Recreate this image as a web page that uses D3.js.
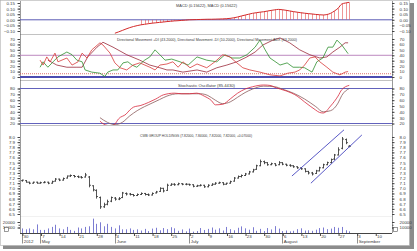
<!DOCTYPE html>
<html>
<head>
<meta charset="utf-8">
<script src="https://cdn.jsdelivr.net/npm/d3@7"></script>
<style>
  body { margin: 0; background: #fff; }
  svg text { font-family: "Liberation Sans", Arial, sans-serif; fill: #3a3a3a; }
</style>
</head>
<body>
<div id="chart"></div>
<script>
(function () {
  'use strict';

  // date axis: Monday ticks (trading-day index) and their labels
  var dayTicks = [0, 5, 10, 15, 20, 25, 30, 35, 40, 45, 50, 55, 60, 65, 70, 75, 80, 85, 90, 95];
  var dayLabels = ['30', '7', '14', '21', '28', '4', '11', '18', '25', '2', '9', '16', '23', '30', '6', '13', '20', '27', '3', '10'];
  var monthTicks = [0, 5, 25, 45, 70, 90];
  var monthLabels = ['2012', 'May', 'June', 'July', 'August', 'September'];

  var macdTicks = [-0.10, -0.05, 0, 0.05, 0.10, 0.15];
  var dmiTicks = [0, 10, 20, 30, 40, 50, 60, 70];
  var stochTicks = [20, 30, 40, 50, 60, 70, 80];
  var priceTicks = [6.5, 6.6, 6.7, 6.8, 6.9, 7.0, 7.1, 7.2, 7.3, 7.4, 7.5, 7.6, 7.7, 7.8, 7.9, 8.0];
  var volTicks = [10000, 20000];

  var macdTitle = 'MACD (0.15622), MACD (0.15622)';
  var dmiTitle = 'Directional Movement +DI (43.2000), Directional Movement -DI (10.2000), Directional Movement ADX (63.2000)';
  var stochTitle = 'Stochastic Oscillator (85.4430)';
  var priceTitle = 'CWB GROUP HOLDINGS (7.82000, 7.84000, 7.82000, 7.82000, +0.07000)';

  // daily bars [open, high, low, close], index 0 = 30 Apr 2012
  var ohlc = [
    [7.15,7.17,7.13,7.16],[7.15,7.16,7.11,7.12],[7.12,7.13,7.08,7.10],[7.10,7.13,7.09,7.12],[7.12,7.13,7.09,7.10],
    [7.10,7.13,7.09,7.11],[7.11,7.14,7.10,7.12],[7.12,7.13,7.08,7.10],[7.10,7.15,7.09,7.13],[7.14,7.20,7.13,7.18],
    [7.18,7.19,7.14,7.16],[7.16,7.21,7.15,7.19],[7.20,7.25,7.19,7.24],[7.24,7.27,7.22,7.25],[7.25,7.26,7.21,7.23],
    [7.23,7.25,7.20,7.22],[7.22,7.24,7.19,7.21],[7.22,7.30,7.21,7.26],[7.22,7.24,7.02,7.06],[7.05,7.06,6.94,6.97],
    [6.96,6.98,6.80,6.84],[6.82,6.84,6.60,6.64],[6.64,6.72,6.62,6.68],[6.69,6.78,6.67,6.74],[6.75,6.84,6.73,6.82],
    [6.81,6.83,6.76,6.79],[6.79,6.83,6.77,6.80],[6.82,6.93,6.81,6.91],[6.90,6.92,6.86,6.89],[6.89,6.91,6.86,6.88],
    [6.88,6.89,6.84,6.86],[6.86,6.90,6.85,6.88],[6.88,6.92,6.87,6.90],[6.90,6.91,6.86,6.88],[6.88,6.90,6.85,6.87],
    [6.87,6.92,6.86,6.90],[6.91,6.95,6.90,6.93],[6.94,7.02,6.93,7.00],[7.00,7.01,6.92,6.95],[6.96,7.09,6.95,7.06],
    [7.06,7.10,7.05,7.08],[7.08,7.10,7.05,7.07],[7.07,7.11,7.06,7.09],[7.09,7.10,7.06,7.08],[7.08,7.10,7.06,7.08],
    [7.08,7.09,7.05,7.07],[7.07,7.08,7.02,7.04],[7.04,7.07,7.03,7.05],[7.05,7.08,7.04,7.06],[7.06,7.07,7.01,7.03],
    [7.03,7.08,7.02,7.06],[7.06,7.10,7.05,7.08],[7.08,7.12,7.07,7.10],[7.10,7.13,7.09,7.11],[7.11,7.12,7.06,7.08],
    [7.08,7.11,7.07,7.10],[7.10,7.15,7.09,7.13],[7.14,7.22,7.13,7.20],[7.20,7.25,7.19,7.23],[7.23,7.27,7.21,7.25],
    [7.25,7.30,7.24,7.28],[7.28,7.34,7.27,7.32],[7.32,7.38,7.31,7.36],[7.37,7.46,7.36,7.44],[7.44,7.56,7.43,7.52],
    [7.52,7.54,7.47,7.50],[7.50,7.51,7.44,7.46],[7.46,7.50,7.45,7.48],[7.48,7.49,7.43,7.45],[7.46,7.53,7.45,7.50],
    [7.50,7.51,7.45,7.47],[7.47,7.48,7.43,7.45],[7.45,7.47,7.42,7.44],[7.44,7.45,7.40,7.42],[7.42,7.43,7.38,7.40],
    [7.40,7.41,7.36,7.38],[7.38,7.39,7.31,7.33],[7.33,7.34,7.27,7.30],[7.30,7.32,7.25,7.28],[7.29,7.36,7.28,7.34],
    [7.34,7.42,7.33,7.40],[7.40,7.48,7.39,7.46],[7.46,7.52,7.45,7.50],[7.50,7.58,7.49,7.56],[7.57,7.67,7.55,7.65],
    [7.65,7.80,7.64,7.75],[7.78,8.00,7.76,7.96],[7.95,7.97,7.86,7.89],[7.82,7.84,7.80,7.82]
  ];

  var volume = [
    8300, 6700, 8300, 6700, 15600, 5600, 5600, 8300, 11100, 15000,
    8300, 6700, 11100, 5600, 3900, 10000, 8300, 11100, 12200, 26100,
    16700, 19500, 12200, 16700, 11100, 8300, 13900, 6700, 6700, 8300,
    5600, 6700, 4500, 7500, 3500, 8000, 9500, 5000, 9000, 7000,
    10500, 8500, 4000, 6500, 3000, 8000, 2500, 3500, 9000, 5500,
    7500, 10000, 6000, 8500, 4500, 11000, 7000, 5000, 9500, 12000,
    8500, 6000, 10500, 4000, 7500, 3500, 9000, 6500, 12500, 8000,
    3500, 4500, 3000, 4000, 7000, 8500, 4500, 5000, 4000, 6000,
    9000, 10000, 7000, 8000, 11000, 9500, 11000, 5000, 3000
  ];

  // MACD per bar from index 25; histogram drawn from index 32
  var macdStart = 25;
  var histStart = 32;
  var macd = [
    -0.120, -0.108, -0.095, -0.082, -0.070, -0.060, -0.052, -0.045, -0.040, -0.035,
    -0.030, -0.027, -0.023, -0.020, -0.016, -0.013, -0.010, -0.008, -0.005, -0.003,
    0.000, 0.001, 0.002, 0.003, 0.004, 0.005, 0.005, 0.006, 0.007, 0.008,
    0.010, 0.013, 0.018, 0.025, 0.034, 0.042, 0.050, 0.058, 0.063, 0.068,
    0.072, 0.078, 0.084, 0.089, 0.093, 0.090, 0.085, 0.079, 0.073, 0.068,
    0.063, 0.059, 0.055, 0.052, 0.048, 0.045, 0.043, 0.047, 0.058, 0.078,
    0.103, 0.141, 0.150, 0.156
  ];

  // directional movement, [bar index, value]
  var plusDI = [
    [4.9,18],[5.7,28],[7,18],[8.4,28],[9.7,37],[12.1,46],[13.5,41],[14.8,31],[16.2,28],[17,13],
    [18.8,9],[21,7],[22.3,1],[23.1,9],[24.5,13],[25.8,13],[27.2,26],[28.5,28],[29.6,22],[30.9,18],
    [33,31],[34.4,37],[35.8,50],[37.1,41],[38.5,31],[40.3,33],[42.5,28],[44.7,22],[47.1,37],[49.7,31],
    [52.4,28],[54.6,41],[56.5,35],[58.6,35],[60.5,41],[62.7,55],[64,68],[65.4,50],[66.7,35],[68.6,26],
    [69.4,22],[71.3,26],[72.9,18],[74.7,18],[76,17],[78,9],[79.3,28],[80.9,35],[82.3,55],[83.6,55],
    [84.7,68],[86,59],[87.7,43]
  ];
  var minusDI = [
    [4.9,31],[5.7,22],[6.7,37],[7.6,28],[8.9,44],[9.7,28],[12.1,35],[13.5,22],[15.1,28],[16.2,44],
    [17.5,35],[18.8,50],[21,63],[21.8,59],[23.7,44],[25,26],[26.4,17],[28.2,13],[29.9,22],[31.7,26],
    [34.4,18],[35.8,13],[37.1,22],[39,24],[40.6,28],[42,18],[43.3,28],[45.2,17],[47.1,24],[49.7,17],
    [51.9,28],[54,41],[55.9,37],[57.8,26],[59.4,17],[61.3,13],[64,9],[66.7,4],[69.4,2],[71.5,7],
    [73.4,9],[74.7,13],[76,22],[77.4,35],[78.8,37],[80.1,28],[82,18],[83.6,9],[85.5,4],[86.9,9],
    [87.7,10]
  ];
  var adx = [
    [7,31],[9.4,22],[12.1,18],[14.8,18],[16.2,18],[17.7,37],[20.2,55],[21.8,64],[24.5,55],[28.2,41],
    [31.7,31],[34.4,22],[37.1,17],[39,13],[40.6,13],[43.3,9],[47.1,13],[49.7,9],[52.4,17],[55.1,22],
    [57.8,28],[60.5,37],[62.7,46],[64.8,59],[67.5,68],[69.4,72],[72,63],[74.7,50],[77.4,41],[80.1,35],
    [82,37],[83.6,46],[85.5,55],[86.9,63],[87.7,63]
  ];
  var dmiUpper = 40;
  var dmiLower = 6;

  // stochastic %K and %D, [bar index, value]
  var stochK = [
    [21,24],[22,19],[24,16],[25,19],[26,28],[28,36],[29,43],[30,48],[32,51],[34,56],
    [36,62],[38,69],[41,72],[43,71],[45,71],[47,72],[49,67],[51,59],[52,52],[54,53],
    [56,62],[58,72],[60,79],[62,83],[65,86],[67,85],[68,82],[71,76],[74,67],[76,57],
    [79,43],[80,39],[81,38],[83,50],[85,67],[86,78],[88,85.4]
  ];
  var stochD = [
    [21,30],[23,22],[25,18],[27,22],[29,33],[31,42],[33,49],[35,55],[37,61],[39,67],
    [42,71],[45,71],[48,71],[50,68],[52,60],[54,54],[56,57],[58,65],[60,73],[62,79],
    [65,84],[68,83],[70,79],[73,72],[76,62],[79,49],[81,40],[83,42],[85,55],[86,68],
    [88,80]
  ];
  var stochLevels = [80, 20];

  // trend channel, [bar index, price] end points
  var channels = [
    [[72.6, 7.24], [86.6, 8.14]],
    [[77.7, 7.10], [91.4, 8.04]]
  ];

  var left = 20, right = 392;
  var svg = d3.select('#chart').append('svg')
    .attr('width', 417)
    .attr('height', 251);

  // frame with drop shadow
  svg.append('rect')
    .attr('x', 3).attr('y', 3).attr('width', 411).attr('height', 246)
    .attr('fill', '#8c8c8c');
  svg.append('rect')
    .attr('x', 0.5).attr('y', 0.5).attr('width', 409).attr('height', 245)
    .attr('fill', '#fff').attr('stroke', '#b0b0b0').attr('stroke-width', 0.6);

  var x = d3.scaleLinear().domain([-0.5, 99.5]).range([left, right]);
  function px(i) { return Math.round(x(i)) + 0.5; }

  var yMacd = d3.scaleLinear().domain([-0.10, 0.15]).range([31, 3]);
  var yDmi = d3.scaleLinear().domain([0, 70]).range([77, 39]);
  var yStoch = d3.scaleLinear().domain([20, 80]).range([123.5, 88.5]);
  var yPrice = d3.scaleLinear().domain([6.5, 8.0]).range([214, 137]);
  var yVol = d3.scaleLinear().domain([0, 20000]).range([233, 222]);

  function clip(id, y0, y1) {
    svg.append('clipPath').attr('id', id)
      .append('rect')
      .attr('x', left).attr('y', y0)
      .attr('width', right - left).attr('height', y1 - y0);
    return svg.append('g').attr('clip-path', 'url(#' + id + ')');
  }

  function hline(g, y, color, width, dash) {
    g.append('line')
      .attr('x1', left).attr('x2', right)
      .attr('y1', y).attr('y2', y)
      .attr('stroke', color)
      .attr('stroke-width', width)
      .attr('stroke-dasharray', dash || null);
  }

  // value axes drawn on both sides of each panel
  function sideAxes(scale, ticks, fmt) {
    var step = ticks.length > 1 ? (ticks[1] - ticks[0]) / 2 : 0;
    var minor = [];
    ticks.forEach(function (t, i) {
      minor.push(t);
      if (i < ticks.length - 1) { minor.push(t + step); }
    });
    [[d3.axisLeft, left], [d3.axisRight, right]].forEach(function (a) {
      svg.append('g')
        .attr('transform', 'translate(' + a[1] + ',0)')
        .call(a[0](scale).tickValues(minor).tickSize(1.5).tickFormat(''))
        .call(function (g) { g.select('.domain').remove(); })
        .attr('color', '#555');
      var g = svg.append('g')
        .attr('transform', 'translate(' + a[1] + ',0)')
        .call(a[0](scale).tickValues(ticks).tickSize(2.5).tickPadding(a[1] === left ? 2.5 : 5).tickFormat(fmt))
        .attr('font-size', 4.4)
        .attr('font-family', null)
        .attr('color', '#444');
      g.select('.domain').remove();
    });
  }

  function title(text, x0, width, y) {
    svg.append('text')
      .attr('x', x0).attr('y', y)
      .attr('font-size', 4.2)
      .attr('textLength', width)
      .attr('lengthAdjust', 'spacingAndGlyphs')
      .text(text);
  }

  // panel separators and axis lines
  var seps = svg.append('g');
  [34.5, 80.5, 125.5].forEach(function (y) { hline(seps, y, '#a8a8a8', 0.7); });
  hline(seps, 216.5, '#e2e2e2', 0.5);
  [left, right].forEach(function (xx) {
    seps.append('line')
      .attr('x1', xx + 0.5).attr('x2', xx + 0.5)
      .attr('y1', 1).attr('y2', 233)
      .attr('stroke', '#555').attr('stroke-width', 0.6);
  });

  // MACD
  var gMacd = clip('clip-macd', 1, 34);
  hline(gMacd, yMacd(0), '#5a5ab4', 1);
  gMacd.selectAll('line.hist')
    .data(macd.slice(histStart - macdStart))
    .enter().append('line')
    .attr('class', 'hist')
    .attr('x1', function (d, i) { return px(i + histStart); })
    .attr('x2', function (d, i) { return px(i + histStart); })
    .attr('y1', yMacd(0))
    .attr('y2', function (d) { return yMacd(d); })
    .attr('stroke', '#e25050')
    .attr('stroke-width', 0.6);
  gMacd.append('path')
    .datum(macd)
    .attr('fill', 'none')
    .attr('stroke', '#d42a2a')
    .attr('stroke-width', 1)
    .attr('d', d3.line()
      .x(function (d, i) { return x(i + macdStart); })
      .y(function (d) { return yMacd(d); })
      .curve(d3.curveMonotoneX));
  sideAxes(yMacd, macdTicks, d3.format('.2f'));
  title(macdTitle, 176, 61, 6.5);

  // Directional movement
  var gDmi = clip('clip-dmi', 35, 80);
  hline(gDmi, yDmi(dmiUpper), '#b47ab8', 0.9);
  hline(gDmi, yDmi(dmiLower), '#d24a4a', 0.8, '1,1');
  hline(gDmi, yDmi(0), '#4b4bb0', 2);
  var dmiLine = d3.line()
    .x(function (d) { return x(d[0]); })
    .y(function (d) { return yDmi(d[1]); });
  [[adx, '#9a2a3a'], [plusDI, '#2f8f2f'], [minusDI, '#d83a3a']].forEach(function (s) {
    gDmi.append('path')
      .datum(s[0])
      .attr('fill', 'none')
      .attr('stroke', s[1])
      .attr('stroke-width', 0.8)
      .attr('d', dmiLine);
  });
  sideAxes(yDmi, dmiTicks, d3.format('d'));
  title(dmiTitle, 117, 180, 40.5);

  // Stochastic
  var gSto = clip('clip-sto', 81, 125);
  stochLevels.forEach(function (v) { hline(gSto, yStoch(v), '#6262bc', 1); });
  var stoLine = d3.line()
    .x(function (d) { return x(d[0]); })
    .y(function (d) { return yStoch(d[1]); })
    .curve(d3.curveMonotoneX);
  [[stochD, '#8a5a5a'], [stochK, '#d8283c']].forEach(function (s) {
    gSto.append('path')
      .datum(s[0])
      .attr('fill', 'none')
      .attr('stroke', s[1])
      .attr('stroke-width', 0.8)
      .attr('d', stoLine);
  });
  sideAxes(yStoch, stochTicks, d3.format('d'));
  title(stochTitle, 178, 57, 87);

  // Price bars
  var gPrice = clip('clip-price', 126, 216);
  var bar = gPrice.selectAll('g.bar')
    .data(ohlc)
    .enter().append('g')
    .attr('class', 'bar')
    .attr('stroke', '#2a2a2a')
    .attr('stroke-width', 0.8);
  bar.append('line')
    .attr('x1', function (d, i) { return px(i); })
    .attr('x2', function (d, i) { return px(i); })
    .attr('y1', function (d) { return yPrice(d[1]); })
    .attr('y2', function (d) { return yPrice(d[2]); });
  bar.append('line')
    .attr('x1', function (d, i) { return px(i) - 1.5; })
    .attr('x2', function (d, i) { return px(i); })
    .attr('y1', function (d) { return yPrice(d[0]); })
    .attr('y2', function (d) { return yPrice(d[0]); });
  bar.append('line')
    .attr('x1', function (d, i) { return px(i); })
    .attr('x2', function (d, i) { return px(i) + 1.5; })
    .attr('y1', function (d) { return yPrice(d[3]); })
    .attr('y2', function (d) { return yPrice(d[3]); });
  channels.forEach(function (c) {
    gPrice.append('line')
      .attr('x1', x(c[0][0])).attr('y1', yPrice(c[0][1]))
      .attr('x2', x(c[1][0])).attr('y2', yPrice(c[1][1]))
      .attr('stroke', '#4646c0')
      .attr('stroke-width', 0.9);
  });
  sideAxes(yPrice, priceTicks, d3.format('.1f'));
  title(priceTitle, 140, 112, 136.5);

  // Volume
  svg.append('g').selectAll('line')
    .data(volume)
    .enter().append('line')
    .attr('x1', function (d, i) { return px(i); })
    .attr('x2', function (d, i) { return px(i); })
    .attr('y1', yVol(0))
    .attr('y2', function (d) { return yVol(d); })
    .attr('stroke', '#7c7cd2')
    .attr('stroke-width', 1);
  sideAxes(yVol, volTicks, d3.format('d'));

  // small legend boxes at the volume panel
  [4, 393].forEach(function (bx) {
    svg.append('rect')
      .attr('x', bx + 0.5).attr('y', 227.5)
      .attr('width', 4).attr('height', 4)
      .attr('fill', '#fff').attr('stroke', '#555').attr('stroke-width', 0.6);
  });

  // date axis
  var xAxis = svg.append('g')
    .attr('transform', 'translate(0,233)')
    .call(d3.axisBottom(x)
      .tickValues(dayTicks)
      .tickSize(3)
      .tickSizeOuter(0)
      .tickFormat(function (d, i) { return dayLabels[i]; }))
    .attr('font-size', 4.4)
    .attr('font-family', null)
    .attr('color', '#444');
  xAxis.select('.domain').attr('d', 'M' + left + ',0.5H' + right);
  xAxis.selectAll('.tick line').attr('transform', 'translate(0.5,0)');
  xAxis.selectAll('.tick text')
    .attr('text-anchor', 'start')
    .attr('x', 1.2)
    .attr('y', 4.6)
    .attr('dy', 0);

  var months = svg.append('g').attr('font-size', 4.4);
  monthTicks.forEach(function (t, i) {
    months.append('line')
      .attr('x1', px(t)).attr('x2', px(t))
      .attr('y1', 233).attr('y2', 243.5)
      .attr('stroke', '#444').attr('stroke-width', 0.6);
    months.append('text')
      .attr('x', px(t) + 1.2)
      .attr('y', 243)
      .text(monthLabels[i]);
  });
}());
</script>
</body>
</html>
